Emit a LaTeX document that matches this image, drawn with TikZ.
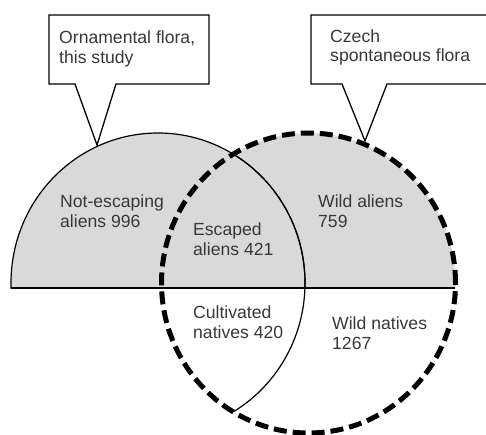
\documentclass[tikz,border=0pt]{standalone}
\usepackage{fontspec}
\setmainfont{Liberation Sans}
\definecolor{fillgray}{HTML}{D9D9D9}
\definecolor{txt}{HTML}{383838}
\begin{document}
\begin{tikzpicture}[x=1pt,y=-1pt,
  lab/.style={anchor=base west, align=left, font=\fontsize{17.6}{19.5}\selectfont, text=txt, inner sep=0pt},
  solidline/.style={draw=black, line width=1.2pt},
  dashline/.style={draw=black, line width=5pt, dash pattern=on 13pt off 6pt},
  callout/.style={draw=black, fill=white, line width=1.3pt, line join=miter}]
\useasboundingbox (0,0) rectangle (486,435);
\coordinate (cL) at (158,283);
\coordinate (cR) at (308.5,283);
\coordinate (lineL) at (11,288);
\coordinate (lineR) at (455.4,288);
% grey upper half of the union
\begin{scope}
  \clip (0,0) rectangle (486,288);
  \fill[fillgray] (cL) ellipse [x radius=147pt, y radius=150pt];
  \fill[fillgray] (cR) ellipse [x radius=147pt, y radius=150pt];
\end{scope}
% solid circle (ornamental flora)
\begin{scope}
  \clip (0,0) rectangle (486,288);
  \draw[solidline] (cL) ellipse [x radius=147pt, y radius=150pt];
\end{scope}
\begin{scope}
  \clip (cR) ellipse [x radius=147pt, y radius=150pt];
  \draw[solidline] (cL) ellipse [x radius=147pt, y radius=150pt];
\end{scope}
% dividing line
\draw[black, line width=1.2pt] (lineL) -- (lineR);
% dashed circle (Czech flora)
\draw[dashline] (cR) ellipse [x radius=147pt, y radius=150pt];
% callouts
\draw[callout] (49,15) -- (209,15) -- (209,84) -- (116,84) -- (97,145) -- (75,84) -- (49,84) -- cycle;
\draw[callout] (311,15) -- (492,15) -- (492,84) -- (387,84) -- (365,141) -- (342,84) -- (311,84) -- cycle;
% labels (anchor at baseline of last line)
\node[lab] (orn) at (59,63.5) {Ornamental flora,\\this study};
\node[lab] (cz) at (330,62) {Czech\\spontaneous flora};
\node[lab] (ne) at (60,227) {Not-escaping\\aliens 996};
\node[lab] (ea) at (193,255) {Escaped\\aliens 421};
\node[lab] (wa) at (318,227) {Wild aliens\\759};
\node[lab] (cn) at (193,338) {Cultivated\\natives 420};
\node[lab] (wn) at (332,349) {Wild natives\\1267};
\end{tikzpicture}
\end{document}
